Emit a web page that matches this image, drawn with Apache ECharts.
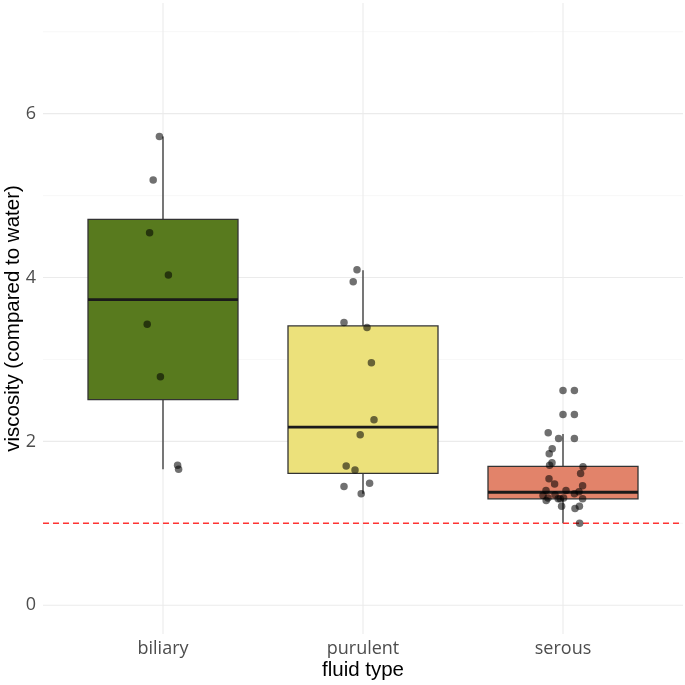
<!DOCTYPE html>
<html>
<head>
<meta charset="utf-8">
<script src="https://cdn.jsdelivr.net/npm/echarts@6/dist/echarts.min.js"></script>
<style>html,body{margin:0;padding:0;background:#fff}#c{width:685px;height:685px}</style>
</head>
<body>
<div id="c"></div>
<script>
// ---------- data ----------
var categories = ['biliary', 'purulent', 'serous'];
var boxColors = ['#587A1E', '#ECE17B', '#E2836A'];
// [lower whisker, Q1, median, Q3, upper whisker]
var biliaryBox = [1.66, 2.51, 3.73, 4.71, 5.72];
var purulentBox = [1.36, 1.61, 2.175, 3.41, 4.09];
var serousBox = [1.00, 1.30, 1.38, 1.695, 2.09];

var biliaryY = [5.72, 5.19, 4.545, 4.03, 3.43, 2.79, 1.71, 1.66];
var biliaryJitter = [-0.018, -0.049, -0.067, 0.027, -0.079, -0.013, 0.073, 0.078];

var purulentY = [4.094, 3.947, 3.45, 3.39, 2.96, 2.265, 2.08, 1.70, 1.65, 1.49, 1.45, 1.36];
var purulentJitter = [-0.03, -0.049, -0.095, 0.02, 0.042, 0.055, -0.014, -0.084, -0.04, 0.033, -0.095, -0.009];

var serousY = [2.622, 2.622, 2.329, 2.329, 2.106, 2.037, 2.037, 1.91, 1.85, 1.74, 1.71, 1.69, 1.61, 1.545, 1.48, 1.46,
  1.40, 1.40, 1.385, 1.36, 1.34, 1.35, 1.31, 1.30, 1.31, 1.28, 1.30, 1.30, 1.21, 1.21, 1.18, 1.00];
var serousJitter = [0, 0.057, 0, 0.057, -0.074, -0.022, 0.057, -0.054, -0.069, -0.055, -0.067, 0.1, 0.088, -0.07, -0.042, 0.098,
  -0.085, 0.015, 0.08, 0.057, -0.1, -0.04, -0.075, -0.024, 0.003, -0.084, -0.014, 0.098, -0.007, 0.082, 0.06, 0.083];

var yMajorTicks = [0, 2, 4, 6];
var yMinorTicks = [1, 3, 5, 7];
var xTicks = [1, 2, 3];
var referenceLine = 1;

// ---------- build ----------
var boxes = [biliaryBox, purulentBox, serousBox];
var boxData = boxes.map(function (b, i) { return [i + 1].concat(b); });
var allY = [biliaryY, purulentY, serousY];
var allJ = [biliaryJitter, purulentJitter, serousJitter];
var pointData = [];
allY.forEach(function (ys, i) {
  ys.forEach(function (y, k) { pointData.push([i + 1 + allJ[i][k], y]); });
});

var gridData = [];
yMinorTicks.forEach(function (v) { gridData.push(['y', v, 0]); });
yMajorTicks.forEach(function (v) { gridData.push(['y', v, 1]); });
xTicks.forEach(function (v) { gridData.push(['x', v, 1]); });

var chart = echarts.init(document.getElementById('c'), null, { renderer: 'canvas' });
var option = {
  animation: false,
  backgroundColor: '#ffffff',
  grid: { left: 43, right: 2, top: 3, bottom: 51, containLabel: false, outerBoundsMode: 'none' },
  xAxis: {
    type: 'value', min: 0.4, max: 3.6,
    name: 'fluid type', nameLocation: 'middle', nameGap: 26, nameMoveOverlap: false,
    nameTextStyle: { fontFamily: 'Liberation Sans', fontSize: 20.5, color: '#000' },
    axisLine: { show: false }, axisTick: { show: false }, splitLine: { show: false },
    axisLabel: {
      customValues: xTicks, margin: 6,
      fontFamily: 'Open Sans', fontSize: 18, color: '#4D4D4D',
      formatter: function (v) { return categories[Math.round(v) - 1] || ''; }
    }
  },
  yAxis: {
    type: 'value', min: -0.35, max: 7.35,
    name: 'viscosity (compared to water)', nameLocation: 'middle', nameGap: 19, nameRotate: 90, nameMoveOverlap: false,
    nameTextStyle: { fontFamily: 'Liberation Sans', fontSize: 20.5, color: '#000' },
    axisLine: { show: false }, axisTick: { show: false }, splitLine: { show: false },
    axisLabel: {
      customValues: yMajorTicks, margin: 7,
      fontFamily: 'Open Sans', fontSize: 18, color: '#4D4D4D'
    }
  },
  series: [
    {
      type: 'custom', silent: true, z: 1,
      data: gridData,
      renderItem: function (params, api) {
        var cs = params.coordSys;
        var axis = gridData[params.dataIndex][0];
        var v = api.value(1), major = api.value(2);
        var style = { stroke: major ? '#EBEBEB' : '#F2F2F2', lineWidth: major ? 1.1 : 0.6 };
        if (axis === 'y') {
          var y = api.coord([1, v])[1];
          return { type: 'line', shape: { x1: cs.x, y1: y, x2: cs.x + cs.width, y2: y }, style: style };
        } else {
          var x = api.coord([v, 0])[0];
          return { type: 'line', shape: { x1: x, y1: cs.y, x2: x, y2: cs.y + cs.height }, style: style };
        }
      },
      encode: { x: 1, y: 1 }
    },
    {
      type: 'custom', silent: true, z: 2,
      data: boxData,
      encode: { x: 0, y: [1, 2, 3, 4, 5] },
      renderItem: function (params, api) {
        var c = api.value(0);
        var lo = api.value(1), q1 = api.value(2), med = api.value(3), q3 = api.value(4), hi = api.value(5);
        var half = 0.375;
        var pL = api.coord([c - half, q3]);
        var pR = api.coord([c + half, q1]);
        var xc = api.coord([c, lo])[0];
        var yLo = api.coord([c, lo])[1], yHi = api.coord([c, hi])[1];
        var yQ1 = api.coord([c, q1])[1], yQ3 = api.coord([c, q3])[1], yMed = api.coord([c, med])[1];
        var color = boxColors[params.dataIndex];
        return {
          type: 'group',
          children: [
            { type: 'line', shape: { x1: xc, y1: yHi, x2: xc, y2: yQ3 }, style: { stroke: '#333333', lineWidth: 1.3 } },
            { type: 'line', shape: { x1: xc, y1: yQ1, x2: xc, y2: yLo }, style: { stroke: '#333333', lineWidth: 1.3 } },
            { type: 'rect', shape: { x: pL[0], y: yQ3, width: pR[0] - pL[0], height: yQ1 - yQ3 },
              style: { fill: color, stroke: '#333333', lineWidth: 1.3 } },
            { type: 'line', shape: { x1: pL[0], y1: yMed, x2: pR[0], y2: yMed }, style: { stroke: '#1A1A1A', lineWidth: 2.8 } }
          ]
        };
      }
    },
    {
      type: 'custom', silent: true, z: 3,
      data: [[referenceLine]],
      encode: { y: 0 },
      renderItem: function (params, api) {
        var cs = params.coordSys;
        var y = api.coord([1, api.value(0)])[1];
        return { type: 'line', shape: { x1: cs.x, y1: y, x2: cs.x + cs.width, y2: y },
          style: { stroke: '#FF3333', lineWidth: 1.5, lineDash: [6, 4] } };
      }
    },
    {
      type: 'scatter', z: 4, silent: true,
      data: pointData,
      symbol: 'circle', symbolSize: 7.5,
      itemStyle: { color: 'rgba(0,0,0,0.7)' }
    }
  ]
};
chart.setOption(option);
</script>
</body>
</html>
